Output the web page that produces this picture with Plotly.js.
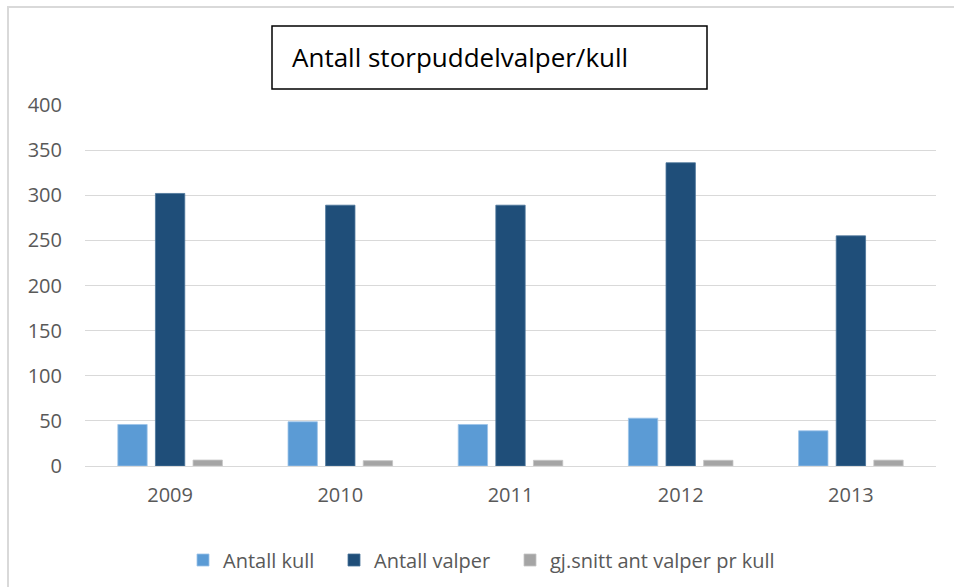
<!DOCTYPE html>
<html>
<head>
<meta charset="utf-8">
<script src="https://cdn.plot.ly/plotly-3.0.1.min.js"></script>
<style>
  html, body { margin: 0; padding: 0; background: #fff; }
  #chart { width: 954px; height: 587px; }
</style>
</head>
<body>
<div id="chart"></div>
<script>
const years = ['2009', '2010', '2011', '2012', '2013'];
const antallKull = [46, 49, 46, 53, 39];
const antallValper = [302, 289, 289, 336, 255];
const snittValper = [6.6, 5.9, 6.3, 6.3, 6.5];
const seriesNames = ['Antall kull', 'Antall valper', 'gj.snitt ant valper pr kull'];
const titleText = 'Antall storpuddelvalper/kull';
const yTicks = [0, 50, 100, 150, 200, 250, 300, 350, 400];

const W = 954, H = 587;
const M = { l: 85, r: 18, t: 105, b: 121, autoexpand: false };
const pw = W - M.l - M.r, ph = H - M.t - M.b;
const px = x => (x - M.l) / pw;
const py = y => (H - M.b - y) / ph;

const font = 'Open Sans, Noto Sans, sans-serif';
const lineStyle = c => ({ color: c, width: 0.8 });

const traces = [
  { type: 'bar', name: seriesNames[0], x: years, y: antallKull, legend: 'legend',
    marker: { color: '#5B9BD5', line: lineStyle('#9cc3e8') } },
  { type: 'bar', name: seriesNames[1], x: years, y: antallValper, legend: 'legend2',
    marker: { color: '#1F4E79', line: lineStyle('#4a7399') } },
  { type: 'bar', name: seriesNames[2], x: years, y: snittValper, legend: 'legend3',
    marker: { color: '#A5A5A5', line: lineStyle('#c4c4c4') } }
];

const legFont = { family: font, size: 20, color: '#595959' };
const mkLegend = sx => ({ orientation: 'h', x: px(sx), xanchor: 'left', y: py(560), yanchor: 'middle',
  font: legFont, itemwidth: 30, bgcolor: 'rgba(0,0,0,0)' });

const layout = {
  width: W, height: H,
  margin: M,
  paper_bgcolor: '#fff', plot_bgcolor: '#fff',
  barmode: 'group', bargap: 0.337, bargroupgap: 0.22,
  font: { family: font, color: '#595959', size: 19 },
  showlegend: true,
  legend: mkLegend(183),
  legend2: mkLegend(334),
  legend3: mkLegend(510),
  xaxis: { type: 'category', showgrid: false, showline: false, zeroline: false, ticks: '',
           ticklabelstandoff: 15,
           tickfont: { family: font, size: 20, color: '#595959' }, fixedrange: true },
  yaxis: { range: [0, 400], tickvals: yTicks, showgrid: true, gridcolor: '#d9d9d9', gridwidth: 1,
           zeroline: true, zerolinecolor: '#d9d9d9', zerolinewidth: 1, showline: false, ticks: '',
           ticklen: 0, ticklabelstandoff: 22,
           tickfont: { family: font, size: 20, color: '#595959' }, fixedrange: true },
  shapes: [
    { type: 'line', xref: 'paper', yref: 'paper', layer: 'below',
      x0: px(8), x1: px(8), y0: py(7), y1: py(600), line: { color: '#d9d9d9', width: 2 } },
    { type: 'line', xref: 'paper', yref: 'paper', layer: 'below',
      x0: px(7), x1: px(970), y0: py(7), y1: py(7), line: { color: '#d9d9d9', width: 2 } },
    { type: 'rect', xref: 'paper', yref: 'paper',
      x0: px(272), x1: px(707), y0: py(89), y1: py(26),
      fillcolor: '#fff', line: { color: '#000', width: 1.5 } }
  ],
  annotations: [
    { text: titleText, xref: 'paper', yref: 'paper', x: px(290), y: py(57),
      xanchor: 'left', yanchor: 'middle', showarrow: false,
      font: { family: font, size: 26, color: '#000' } }
  ]
};

Plotly.newPlot('chart', traces, layout, { displayModeBar: false, staticPlot: true });
</script>
</body>
</html>
